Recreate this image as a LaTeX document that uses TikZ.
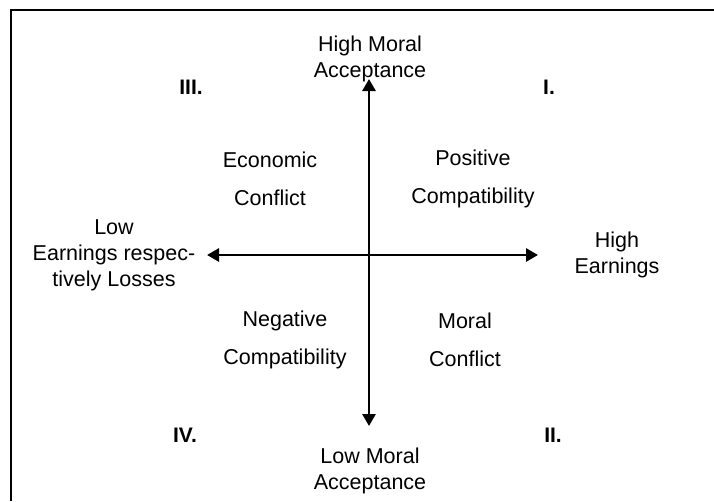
\documentclass[tikz,border=0pt]{standalone}
\usepackage{fontspec}
\setmainfont{Liberation Sans}
\usetikzlibrary{arrows.meta}

\tikzset{
  axis/.style={line width=2.8pt, {Triangle[length=12pt,width=13pt]}-{Triangle[length=12pt,width=13pt]}},
  pole/.style={align=center, font=\fontsize{21.5}{26}\selectfont},
  quad/.style={align=center, font=\fontsize{21.5}{38}\selectfont},
  roman/.style={font=\fontsize{21}{24}\selectfont\bfseries}
}

\begin{document}
\begin{tikzpicture}[x=1pt, y=-1pt]
  \useasboundingbox (0,0) rectangle (714,501);
  % frame: only top and left edges visible
  \draw[line width=1.6pt] (714,10) -- (11,10) -- (11,501);

  % axes
  \coordinate (top) at (369,79);
  \coordinate (bottom) at (369,426);
  \coordinate (left) at (207,255);
  \coordinate (right) at (538,255);
  \draw[axis] (bottom) -- (top);
  \draw[axis] (left) -- (right);

  % axis ends
  \node[pole] (highmoral) at (370,59) {High Moral\\Acceptance};
  \node[pole] (lowmoral) at (370,471) {Low Moral\\Acceptance};
  \node[pole] (lowearn) at (114,255) {Low\\Earnings respec-\\tively Losses};
  \node[pole] (highearn) at (617,255) {High\\Earnings};

  % quadrant contents
  \node[quad] (econ) at (270,179) {Economic\\Conflict};
  \node[quad] (pos) at (473,179) {Positive\\Compatibility};
  \node[quad] (neg) at (285,340) {Negative\\Compatibility};
  \node[quad] (moral) at (465,340) {Moral\\Conflict};

  % quadrant numbers
  \node[roman] (qI) at (549,87) {I.};
  \node[roman] (qII) at (553,435) {II.};
  \node[roman] (qIII) at (191,87) {III.};
  \node[roman] (qIV) at (185,435) {IV.};
\end{tikzpicture}
\end{document}
